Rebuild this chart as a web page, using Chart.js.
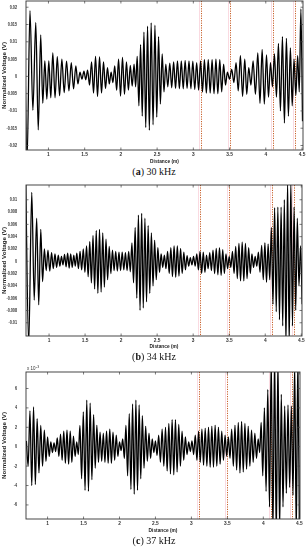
<!DOCTYPE html>
<html>
<head>
<meta charset="utf-8">
<script src="https://cdn.jsdelivr.net/npm/chart.js@4.4.1/dist/chart.umd.min.js"></script>
<style>
body { margin: 0; background: #fff; width: 308px; height: 550px; position: relative; overflow: hidden; }
canvas { position: absolute; left: 0; }
.cap { position: absolute; left: 0; width: 308px; text-align: center; font: 10px "Liberation Serif", "Times New Roman", serif; color: #111; line-height: 12px; }
</style>
</head>
<body>
<canvas id="chartA" width="308" height="166" style="top:0px"></canvas>
<div class="cap" style="top:166px">(<b>a</b>) 30 kHz</div>
<canvas id="chartB" width="308" height="169" style="top:183px"></canvas>
<div class="cap" style="top:351px">(<b>b</b>) 34 kHz</div>
<canvas id="chartC" width="308" height="173" style="top:362px"></canvas>
<div class="cap" style="top:535px">(<b>c</b>) 37 kHz</div>
<script>
// eixo x comum
const xTicks = [1, 1.5, 2, 2.5, 3, 3.5, 4, 4.5];

// (a) 30 kHz: posição de cada pico, valor do pico e do vale seguinte
const distA = [0.665, 0.745, 0.825, 0.893, 0.950, 1.005, 1.060, 1.122, 1.185, 1.250,
  1.315, 1.378, 1.435, 1.490, 1.540, 1.595, 1.650, 1.705, 1.760, 1.815,
  1.865, 1.915, 1.968, 2.022, 2.077, 2.130, 2.182, 2.225, 2.272, 2.318,
  2.368, 2.418, 2.470, 2.520, 2.570, 2.620, 2.675, 2.728, 2.781, 2.834,
  2.887, 2.940, 2.993, 3.046, 3.100, 3.153, 3.206, 3.259, 3.312, 3.365,
  3.418, 3.470, 3.530, 3.590, 3.650, 3.710, 3.765, 3.825, 3.890, 3.950,
  4.010, 4.065, 4.120, 4.175, 4.230, 4.285, 4.340, 4.390, 4.440, 4.485];
const topA = [0.0200, 0.0190, 0.0156, 0.0120, 0.0045, 0.0045, 0.0068, 0.0057, 0.0050, 0.0044,
  0.0040, 0.0030, 0.0012, 0.0015, 0.0018, 0.0042, 0.0058, 0.0056, 0.0042, 0.0025,
  0.0012, 0.0030, 0.0050, 0.0055, 0.0042, 0.0032, 0.0035, 0.0058, 0.0092, 0.0128,
  0.0145, 0.0155, 0.0148, 0.0115, 0.0065, 0.0035, 0.0038, 0.0042, 0.0045, 0.0045,
  0.0046, 0.0045, 0.0044, 0.0040, 0.0045, 0.0048, 0.0048, 0.0048, 0.0050, 0.0048,
  0.0035, 0.0012, 0.0020, 0.0040, 0.0060, 0.0050, 0.0025, 0.0045, 0.0068, 0.0078,
  0.0062, 0.0040, 0.0065, 0.0095, 0.0115, 0.0110, 0.0082, 0.0050, 0.0060, 0.0195];
const botA = [-0.0240, -0.0098, -0.0155, -0.0078, -0.0066, -0.0062, -0.0062, -0.0056, -0.0047, -0.0042,
  -0.0036, -0.0022, -0.0008, -0.0010, -0.0025, -0.0048, -0.0058, -0.0048, -0.0035, -0.0022,
  -0.0018, -0.0040, -0.0057, -0.0052, -0.0040, -0.0028, -0.0030, -0.0085, -0.0115, -0.0148,
  -0.0156, -0.0140, -0.0118, -0.0080, -0.0045, -0.0030, -0.0033, -0.0035, -0.0036, -0.0036,
  -0.0035, -0.0036, -0.0038, -0.0040, -0.0045, -0.0048, -0.0048, -0.0050, -0.0050, -0.0045,
  -0.0025, -0.0008, -0.0018, -0.0042, -0.0058, -0.0052, -0.0025, -0.0052, -0.0078, -0.0080,
  -0.0060, -0.0030, -0.0060, -0.0100, -0.0135, -0.0115, -0.0085, -0.0055, -0.0045, -0.0130];
const yTicksA = [-0.02, -0.015, -0.01, -0.005, 0, 0.005, 0.01, 0.015, 0.02];
const markA = [3.1, 3.5, 4.1, 4.4];

// (b) 34 kHz
const distB = [0.675, 0.760, 0.828, 0.885, 0.935, 0.985, 1.035, 1.082, 1.128, 1.172,
  1.215, 1.258, 1.300, 1.343, 1.385, 1.430, 1.475, 1.520, 1.565, 1.610,
  1.655, 1.700, 1.745, 1.790, 1.835, 1.880, 1.925, 1.970, 2.015, 2.060,
  2.105, 2.150, 2.195, 2.240, 2.285, 2.330, 2.375, 2.420, 2.465, 2.510,
  2.555, 2.600, 2.645, 2.690, 2.735, 2.780, 2.825, 2.870, 2.915, 2.960,
  3.005, 3.050, 3.095, 3.140, 3.185, 3.230, 3.275, 3.320, 3.365, 3.410,
  3.455, 3.500, 3.545, 3.590, 3.635, 3.680, 3.725, 3.770, 3.815, 3.860,
  3.905, 3.950, 3.995, 4.040, 4.085, 4.130, 4.175, 4.220, 4.265, 4.310,
  4.355, 4.400, 4.445, 4.490];
const topB = [0.0140, 0.0112, 0.0070, 0.0052, 0.0020, 0.0018, 0.0014, 0.0012, 0.0010, 0.0008,
  0.0011, 0.0013, 0.0012, 0.0010, 0.0013, 0.0016, 0.0020, 0.0025, 0.0032, 0.0042,
  0.0050, 0.0052, 0.0046, 0.0036, 0.0024, 0.0018, 0.0016, 0.0015, 0.0015, 0.0014,
  0.0016, 0.0030, 0.0055, 0.0075, 0.0078, 0.0070, 0.0058, 0.0046, 0.0034, 0.0022,
  0.0012, 0.0010, 0.0016, 0.0022, 0.0025, 0.0025, 0.0021, 0.0015, 0.0009, 0.0006,
  0.0008, 0.0012, 0.0016, 0.0015, 0.0010, 0.0014, 0.0018, 0.0021, 0.0022, 0.0019,
  0.0012, 0.0008, 0.0016, 0.0024, 0.0029, 0.0031, 0.0029, 0.0022, 0.0012, 0.0008,
  0.0015, 0.0026, 0.0030, 0.0028, 0.0055, 0.0087, 0.0088, 0.0088, 0.0100, 0.0130,
  0.0130, 0.0088, 0.0070, 0.0025];
const botB = [-0.0135, -0.0063, -0.0071, -0.0033, -0.0015, -0.0016, -0.0012, -0.0010, -0.0008, -0.0006,
  -0.0009, -0.0011, -0.0010, -0.0008, -0.0012, -0.0014, -0.0018, -0.0025, -0.0035, -0.0045,
  -0.0052, -0.0050, -0.0042, -0.0030, -0.0020, -0.0015, -0.0016, -0.0015, -0.0014, -0.0015,
  -0.0017, -0.0035, -0.0060, -0.0080, -0.0076, -0.0066, -0.0052, -0.0040, -0.0030, -0.0018,
  -0.0010, -0.0012, -0.0020, -0.0025, -0.0026, -0.0024, -0.0020, -0.0014, -0.0008, -0.0006,
  -0.0008, -0.0014, -0.0020, -0.0018, -0.0012, -0.0015, -0.0020, -0.0022, -0.0023, -0.0020,
  -0.0012, -0.0010, -0.0020, -0.0028, -0.0032, -0.0032, -0.0028, -0.0020, -0.0010, -0.0008,
  -0.0018, -0.0030, -0.0034, -0.0030, -0.0070, -0.0082, -0.0095, -0.0105, -0.0135, -0.0135,
  -0.0105, -0.0080, -0.0040, -0.0070];
const yTicksB = [-0.01, -0.008, -0.006, -0.004, -0.002, 0, 0.002, 0.004, 0.006, 0.008, 0.01];
const markB = [3.1, 3.5, 4.1, 4.4];

// (c) 37 kHz
const distC = [0.705, 0.755, 0.805, 0.855, 0.905, 0.955, 1.000, 1.045, 1.090, 1.135,
  1.180, 1.225, 1.270, 1.315, 1.360, 1.405, 1.450, 1.497, 1.545, 1.592,
  1.640, 1.685, 1.730, 1.775, 1.820, 1.865, 1.910, 1.955, 2.000, 2.045,
  2.090, 2.136, 2.182, 2.228, 2.273, 2.318, 2.364, 2.410, 2.455, 2.500,
  2.545, 2.593, 2.640, 2.686, 2.732, 2.778, 2.824, 2.870, 2.916, 2.962,
  3.008, 3.054, 3.100, 3.146, 3.192, 3.238, 3.284, 3.330, 3.376, 3.422,
  3.468, 3.514, 3.560, 3.606, 3.652, 3.698, 3.744, 3.790, 3.836, 3.882,
  3.928, 3.970, 4.015, 4.062, 4.110, 4.157, 4.203, 4.250, 4.297, 4.343,
  4.390, 4.436, 4.480];
const topC = [0.0006, 0.0037, 0.0041, 0.0029, 0.0022, 0.0017, 0.0010, 0.0005, 0.0004, 0.0009,
  0.0013, 0.0016, 0.0017, 0.0016, 0.0011, 0.0005, 0.0022, 0.0036, 0.0048, 0.0045,
  0.0033, 0.0022, 0.0015, 0.0014, 0.0016, 0.0018, 0.0015, 0.0012, 0.0005, 0.0008,
  0.0022, 0.0034, 0.0044, 0.0048, 0.0043, 0.0032, 0.0021, 0.0014, 0.0008, 0.0006,
  0.0012, 0.0018, 0.0020, 0.0024, 0.0028, 0.0028, 0.0023, 0.0016, 0.0010, 0.0005,
  0.0006, 0.0012, 0.0016, 0.0018, 0.0019, 0.0020, 0.0021, 0.0022, 0.0020, 0.0016,
  0.0012, 0.0010, 0.0018, 0.0022, 0.0025, 0.0026, 0.0024, 0.0021, 0.0017, 0.0014,
  0.0008, 0.0025, 0.0040, 0.0059, 0.0090, 0.0095, 0.0090, 0.0054, 0.0042, 0.0043,
  0.0042, 0.0085, 0.0090];
const botC = [-0.0020, -0.0040, -0.0039, -0.0027, -0.0020, -0.0015, -0.0010, -0.0006, -0.0005, -0.0010,
  -0.0014, -0.0017, -0.0018, -0.0016, -0.0010, -0.0008, -0.0033, -0.0045, -0.0046, -0.0034,
  -0.0022, -0.0016, -0.0015, -0.0016, -0.0017, -0.0017, -0.0014, -0.0010, -0.0004, -0.0012,
  -0.0030, -0.0044, -0.0049, -0.0045, -0.0033, -0.0022, -0.0015, -0.0012, -0.0006, -0.0009,
  -0.0016, -0.0020, -0.0025, -0.0028, -0.0029, -0.0026, -0.0020, -0.0014, -0.0008, -0.0005,
  -0.0008, -0.0014, -0.0016, -0.0019, -0.0020, -0.0021, -0.0021, -0.0020, -0.0018, -0.0014,
  -0.0010, -0.0012, -0.0020, -0.0024, -0.0027, -0.0026, -0.0023, -0.0020, -0.0016, -0.0012,
  -0.0006, -0.0030, -0.0046, -0.0062, -0.0090, -0.0095, -0.0085, -0.0062, -0.0048, -0.0042,
  -0.0050, -0.0090, -0.0090];
const yTicksC = [-0.006, -0.004, -0.002, 0, 0.002, 0.004, 0.006];
const markC = [3.1, 3.5, 4.1, 4.4];

const sans = '"Liberation Sans", Arial, sans-serif';

// monta a linha: pico em cada distância, vale no meio até o próximo pico
function buildWave(dist, top, bot) {
    const pts = [];
    dist.forEach((d, i) => {
        pts.push({ x: d, y: top[i] });
        const next = i < dist.length - 1 ? dist[i + 1] : d + (d - dist[i - 1]);
        pts.push({ x: (d + next) / 2, y: bot[i] });
    });
    return pts;
}

// linhas pontilhadas, moldura, marcas internas e rótulos do eixo y (estilo MATLAB)
const framePlugin = {
    id: 'frame',
    beforeDatasetsDraw(chart, args, opts) {
        const { ctx, chartArea: a, scales: { x } } = chart;
        ctx.save();
        opts.marks.forEach(m => {
            const px = Math.round(x.getPixelForValue(m)) + 0.5;
            // halo rosado ao lado, como no original
            ctx.setLineDash([]);
            ctx.strokeStyle = 'rgba(240, 150, 170, 0.35)';
            ctx.lineWidth = 1;
            ctx.beginPath();
            ctx.moveTo(px - 2, a.top);
            ctx.lineTo(px - 2, a.bottom);
            ctx.stroke();
            ctx.setLineDash([1.2, 1.2]);
            ctx.strokeStyle = '#c8602a';
            ctx.beginPath();
            ctx.moveTo(px, a.top);
            ctx.lineTo(px, a.bottom);
            ctx.stroke();
        });
        ctx.restore();
    },
    afterDraw(chart, args, opts) {
        const { ctx, chartArea: a, scales: { x, y } } = chart;
        ctx.save();
        ctx.strokeStyle = '#444';
        ctx.lineWidth = 0.7;
        ctx.beginPath();
        x.ticks.forEach(t => {
            const px = x.getPixelForValue(t.value);
            ctx.moveTo(px, a.bottom); ctx.lineTo(px, a.bottom - 2.5);
            ctx.moveTo(px, a.top); ctx.lineTo(px, a.top + 2.5);
        });
        y.ticks.forEach(t => {
            const py = y.getPixelForValue(t.value);
            ctx.moveTo(a.left, py); ctx.lineTo(a.left + 2.5, py);
            ctx.moveTo(a.right, py); ctx.lineTo(a.right - 2.5, py);
        });
        ctx.stroke();
        ctx.strokeStyle = '#333';
        ctx.lineWidth = 0.9;
        ctx.strokeRect(a.left, a.top, a.right - a.left, a.bottom - a.top);

        // rótulos do eixo y, estreitos como no original
        ctx.fillStyle = '#333';
        ctx.font = 'bold 5.2px ' + sans;
        ctx.textAlign = 'right';
        ctx.textBaseline = 'middle';
        y.ticks.forEach(t => {
            ctx.save();
            ctx.translate(a.left - 9, y.getPixelForValue(t.value));
            ctx.scale(0.72, 1);
            ctx.fillText(opts.fmt(t.value), 0, 0);
            ctx.restore();
        });

        if (opts.exponent) {
            ctx.textAlign = 'left';
            ctx.textBaseline = 'bottom';
            ctx.font = '4.5px ' + sans;
            ctx.fillText('x 10', a.left + 1, a.top - 1);
            ctx.font = '3.5px ' + sans;
            ctx.fillText('-3', a.left + 10, a.top - 3);
        }
        ctx.restore();
    }
};

function renderPanel(id, p) {
    const ctx = document.getElementById(id).getContext('2d');
    return new Chart(ctx, {
        type: 'line',
        data: {
            datasets: [{
                data: buildWave(p.dist, p.top, p.bot),
                borderColor: '#000',
                borderWidth: 1.3,
                pointRadius: 0,
                cubicInterpolationMode: 'monotone',
                fill: false
            }]
        },
        options: {
            responsive: false,
            animation: false,
            events: [],
            layout: { padding: { left: 0, right: 308 - p.right, top: p.padTop, bottom: 0 } },
            plugins: {
                legend: { display: false },
                tooltip: { enabled: false },
                frame: { marks: p.marks, exponent: p.exponent, fmt: p.fmt }
            },
            scales: {
                x: {
                    type: 'linear',
                    min: p.xmin,
                    max: p.xmax,
                    afterBuildTicks: s => { s.ticks = xTicks.map(v => ({ value: v })); },
                    afterFit: s => { s.height = 16; s.paddingLeft = 0; s.paddingRight = 0; },
                    grid: { display: false, drawTicks: false },
                    border: { display: false },
                    ticks: {
                        padding: 2, maxRotation: 0, autoSkip: false, color: '#333',
                        font: { size: 4.8, family: sans, weight: 'bold' },
                        callback: v => String(v)
                    },
                    title: {
                        display: true, text: 'Distance (m)', color: '#222',
                        font: { size: 4.8, family: sans, weight: 'bold' },
                        padding: { top: 0, bottom: p.titlePad }
                    }
                },
                y: {
                    min: p.ymin,
                    max: p.ymax,
                    afterBuildTicks: s => { s.ticks = p.yTicks.map(v => ({ value: v })); },
                    afterFit: s => { s.width = 26; s.paddingTop = 0; s.paddingBottom = 0; },
                    grid: { display: false, drawTicks: false },
                    border: { display: false },
                    ticks: { display: false },
                    title: {
                        display: true, text: 'Normalized Voltage (V)', color: '#222',
                        font: { size: 6.2, family: sans, weight: 'bold' },
                        padding: { top: 1, bottom: 0 }
                    }
                }
            }
        },
        plugins: [framePlugin]
    });
}

renderPanel('chartA', {
    dist: distA, top: topA, bot: botA, marks: markA, yTicks: yTicksA,
    xmin: 0.69, xmax: 4.514, ymin: -0.0213, ymax: 0.0218,
    right: 303, padTop: 1, titlePad: 1.7, exponent: false,
    fmt: v => String(v)
});
renderPanel('chartB', {
    dist: distB, top: topB, bot: botB, marks: markB, yTicks: yTicksB,
    xmin: 0.68, xmax: 4.51, ymin: -0.01215, ymax: 0.0124,
    right: 302, padTop: 2, titlePad: 2.7, exponent: false,
    fmt: v => String(v)
});
renderPanel('chartC', {
    dist: distC, top: topC, bot: botC, marks: markC, yTicks: yTicksC,
    xmin: 0.70, xmax: 4.51, ymin: -0.00745, ymax: 0.0077,
    right: 300, padTop: 10, titlePad: 1.5, exponent: true,
    fmt: v => String(Math.round(v * 1000))
});
</script>
</body>
</html>
